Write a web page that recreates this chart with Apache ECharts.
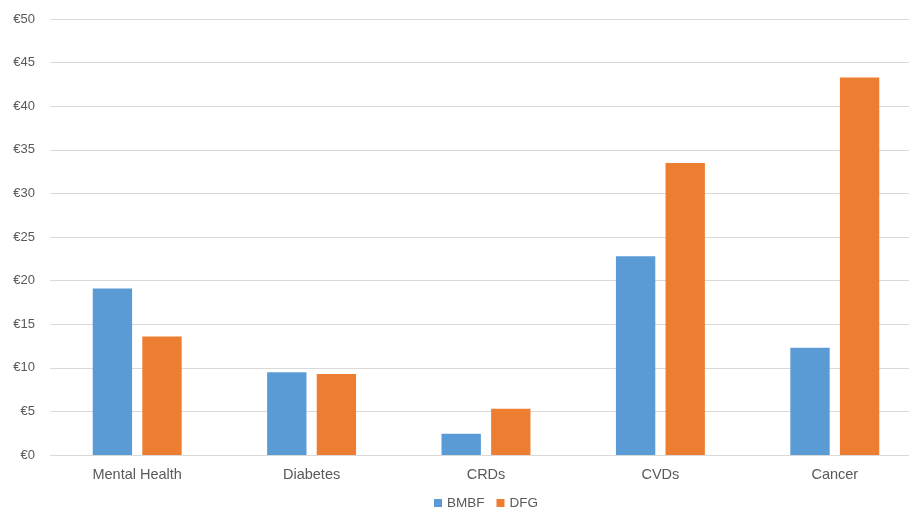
<!DOCTYPE html>
<html>
<head>
<meta charset="utf-8">
<script src="https://cdn.jsdelivr.net/npm/echarts@6/dist/echarts.min.js"></script>
<style>
  html, body { margin: 0; padding: 0; background: #ffffff; overflow: hidden; }
  /* plot area runs a little past the right edge of the window */
  #chart { width: 922px; height: 511px; }
</style>
</head>
<body>
<div id="chart"></div>
<script>
// Research funding by disease area (EUR)
const categories = ['Mental Health', 'Diabetes', 'CRDs', 'CVDs', 'Cancer'];
const bmbfValues = [19.1, 9.5, 2.45, 22.8, 12.3];
const dfgValues  = [13.6, 9.3, 5.3, 33.5, 43.3];
const yTicks = { min: 0, max: 50, interval: 5 };

const textColor = '#595959';
const fontFamily = '"Liberation Sans", Arial, Helvetica, sans-serif';

const chart = echarts.init(document.getElementById('chart'));
chart.setOption({
  animation: false,
  textStyle: { fontFamily: fontFamily },
  grid: { left: 50, top: 19, right: 0, bottom: 56, containLabel: false },
  legend: {
    top: 491,
    left: 429,
    itemWidth: 8,
    itemHeight: 8,
    itemGap: 12,
    icon: 'rect',
    textStyle: { color: textColor, fontSize: 13.5, fontFamily: fontFamily },
    data: ['BMBF', 'DFG']
  },
  xAxis: {
    type: 'category',
    data: categories,
    axisLine: { show: false },
    axisTick: { show: false },
    axisLabel: { color: textColor, fontSize: 14.5, margin: 12 }
  },
  yAxis: {
    type: 'value',
    min: yTicks.min,
    max: yTicks.max,
    interval: yTicks.interval,
    axisLine: { show: false },
    axisTick: { show: false },
    axisLabel: {
      color: textColor,
      fontSize: 13,
      margin: 15,
      formatter: v => '€' + v
    },
    splitLine: { lineStyle: { color: '#d9d9d9', width: 1 } }
  },
  series: [
    {
      name: 'BMBF',
      type: 'bar',
      data: bmbfValues,
      barGap: '26%',
      barCategoryGap: '49%',
      itemStyle: { color: '#5b9bd5' }
    },
    {
      name: 'DFG',
      type: 'bar',
      data: dfgValues,
      itemStyle: { color: '#ed7d31' }
    }
  ]
});
</script>
</body>
</html>
